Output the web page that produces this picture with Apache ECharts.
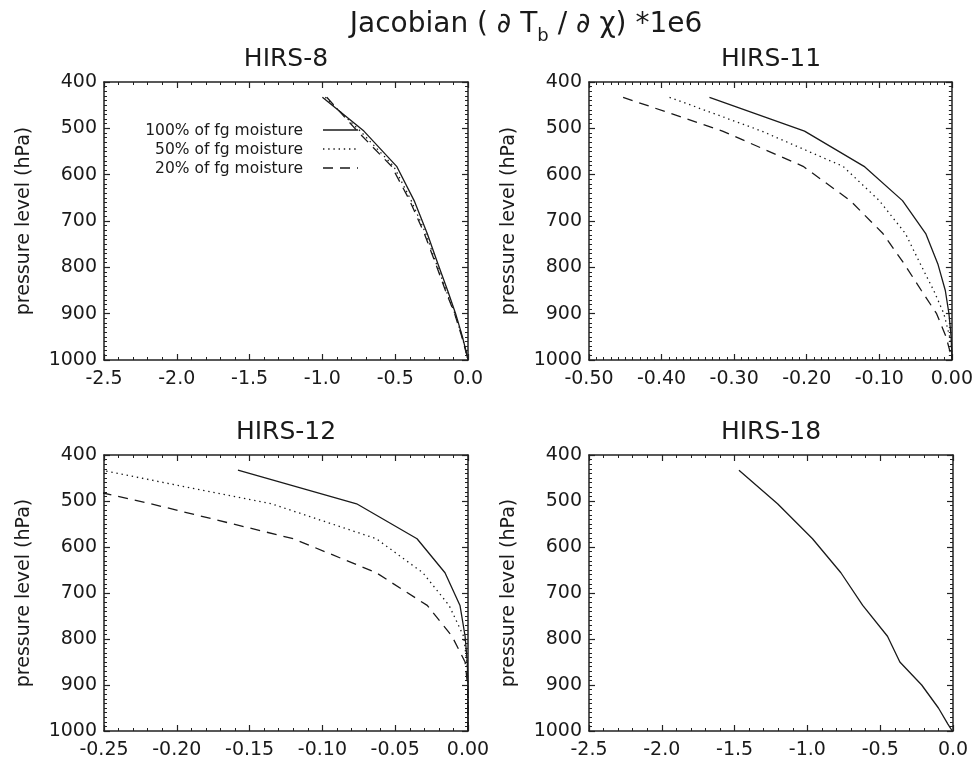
<!DOCTYPE html>
<html><head><meta charset="utf-8">
<script src="https://cdn.jsdelivr.net/npm/echarts@6/dist/echarts.min.js"></script>
<style>html,body{margin:0;padding:0;background:#fff}#c{width:976px;height:763px}</style>
</head><body><div id="c"></div>
<script>
// pressure levels (hPa)
const P = [433, 506, 582, 656, 727, 794, 850, 900, 950, 985, 1000];
// HIRS-8
const h8_100 = [-1.00, -0.715, -0.49, -0.37, -0.28, -0.205, -0.14, -0.085, -0.038, -0.01, 0];
const h8_50  = [-0.98, -0.74, -0.51, -0.39, -0.29, -0.215, -0.15, -0.09, -0.04, -0.011, 0];
const h8_20  = [-0.97, -0.76, -0.525, -0.40, -0.30, -0.22, -0.155, -0.092, -0.042, -0.012, 0];
// HIRS-11
const h11_100 = [-0.334, -0.203, -0.121, -0.068, -0.036, -0.019, -0.009, -0.004, -0.001, 0, 0];
const h11_50  = [-0.389, -0.262, -0.150, -0.100, -0.064, -0.043, -0.025, -0.011, -0.003, 0, 0];
const h11_20  = [-0.453, -0.316, -0.205, -0.140, -0.095, -0.065, -0.042, -0.021, -0.008, -0.002, 0];
// HIRS-12
const h12_100 = [-0.158, -0.0765, -0.035, -0.0158, -0.0055, -0.002, -0.0005, 0, 0, 0, 0];
const h12_50  = [-0.252, -0.135, -0.063, -0.031, -0.013, -0.003, -0.0008, 0, 0, 0, 0];
const h12_20  = [-0.32, -0.218, -0.12, -0.063, -0.028, -0.011, -0.002, -0.0003, 0, 0, 0];
// HIRS-18
const h18_100 = [-1.47, -1.205, -0.965, -0.77, -0.62, -0.45, -0.365, -0.215, -0.10, -0.035, -0.005];

const panelTitles = ['HIRS-8', 'HIRS-11', 'HIRS-12', 'HIRS-18'];
const legendNames = ['100% of fg moisture', '50% of fg moisture', '20% of fg moisture'];
const yTicks = {min: 400, max: 1000, interval: 100};

const FF = '"DejaVu Sans", "Liberation Sans", Arial, sans-serif';
const LC = '#222';
const DASH = {solid: 'solid', dotted: [1.4, 3.8], dashed: [10, 7]};

const grids = [
  {left: 104, top: 82, width: 364, height: 278},
  {left: 589, top: 82, width: 364, height: 278},
  {left: 104, top: 455, width: 364, height: 276},
  {left: 589, top: 455, width: 364, height: 276}
];
const xCfg = [
  {min: -2.5, max: 0, interval: 0.5, minor: 5, dec: 1},
  {min: -0.5, max: 0, interval: 0.1, minor: 10, dec: 2},
  {min: -0.25, max: 0, interval: 0.05, minor: 5, dec: 2},
  {min: -2.5, max: 0, interval: 0.5, minor: 5, dec: 1}
];

function fmt(v, d) { const s = Math.abs(v) < 1e-9 ? 0 : v; return s.toFixed(d); }

const common = {
  type: 'value',
  axisLine: {show: true, onZero: false, lineStyle: {color: LC, width: 1.5}},
  axisTick: {show: true, inside: true, length: 6, lineStyle: {color: LC, width: 1.2}},
  minorTick: {show: true, length: 3, lineStyle: {color: LC, width: 1}},
  splitLine: {show: false}, minorSplitLine: {show: false}
};

const xAxis = [], yAxis = [];
grids.forEach((g, gi) => {
  const c = xCfg[gi];
  const xb = Object.assign({}, common, {gridIndex: gi, min: c.min, max: c.max, interval: c.interval,
    minorTick: Object.assign({}, common.minorTick, {splitNumber: c.minor})});
  xAxis.push(Object.assign({}, xb, {position: 'bottom',
    axisLabel: {show: true, margin: 10, fontSize: 19, color: '#1a1a1a', fontFamily: FF, formatter: v => fmt(v, c.dec)}}));
  xAxis.push(Object.assign({}, xb, {position: 'top', axisLabel: {show: false}}));
  const yb = Object.assign({}, common, {gridIndex: gi, min: yTicks.min, max: yTicks.max, interval: yTicks.interval, inverse: true,
    minorTick: Object.assign({}, common.minorTick, {splitNumber: 10})});
  yAxis.push(Object.assign({}, yb, {position: 'left',
    name: 'pressure level (hPa)', nameLocation: 'middle', nameGap: 70,
    nameTextStyle: {fontSize: 19, color: '#1a1a1a', fontFamily: FF},
    axisLabel: {show: true, margin: 7, fontSize: 19, color: '#1a1a1a', fontFamily: FF, formatter: v => String(v)}}));
  yAxis.push(Object.assign({}, yb, {position: 'right', axisLabel: {show: false}}));
});

function mk(gi, vals, dash) {
  return {type: 'line', xAxisIndex: 2 * gi, yAxisIndex: 2 * gi, showSymbol: false, symbol: 'none',
    silent: true, animation: false, clip: true,
    lineStyle: {color: '#1a1a1a', width: 1.3, type: dash},
    data: P.map((p, i) => [vals[i], p])};
}

const series = [
  mk(0, h8_100, DASH.solid), mk(0, h8_50, DASH.dotted), mk(0, h8_20, DASH.dashed),
  mk(1, h11_100, DASH.solid), mk(1, h11_50, DASH.dotted), mk(1, h11_20, DASH.dashed),
  mk(2, h12_100, DASH.solid), mk(2, h12_50, DASH.dotted), mk(2, h12_20, DASH.dashed),
  mk(3, h18_100, DASH.solid)
];

const graphic = [];
graphic.push({type: 'text', x: 526, y: 25, style: {
  text: '{m|Jacobian ( \u2202 T}{s|b}{m| / \u2202 \u03c7) *1e6}',
  align: 'center', verticalAlign: 'middle', fill: '#1a1a1a',
  rich: {m: {fontSize: 28, fontFamily: FF, lineHeight: 40, verticalAlign: 'middle', fill: '#1a1a1a'},
         s: {fontSize: 18, fontFamily: FF, lineHeight: 18, verticalAlign: 'bottom', fill: '#1a1a1a'}}
}});
grids.forEach((g, gi) => {
  graphic.push({type: 'text', x: g.left + g.width / 2, y: g.top - 23, style: {
    text: panelTitles[gi], font: '25px ' + FF, fill: '#1a1a1a', align: 'center', verticalAlign: 'middle'}});
});
const legY = [131, 150, 169];
const legDash = [null, DASH.dotted, DASH.dashed];
legendNames.forEach((n, i) => {
  graphic.push({type: 'text', x: 303, y: legY[i], style: {text: n, font: '15.5px ' + FF, fill: '#1a1a1a', align: 'right', verticalAlign: 'middle'}});
  graphic.push({type: 'line', shape: {x1: 323, y1: legY[i] - 1, x2: 358, y2: legY[i] - 1},
    style: {stroke: '#1a1a1a', lineWidth: 1.3, lineDash: legDash[i]}});
});

const chart = echarts.init(document.getElementById('c'), null, {renderer: 'canvas'});
chart.setOption({backgroundColor: '#fff', animation: false, grid: grids, xAxis, yAxis, series, graphic});
</script></body></html>
